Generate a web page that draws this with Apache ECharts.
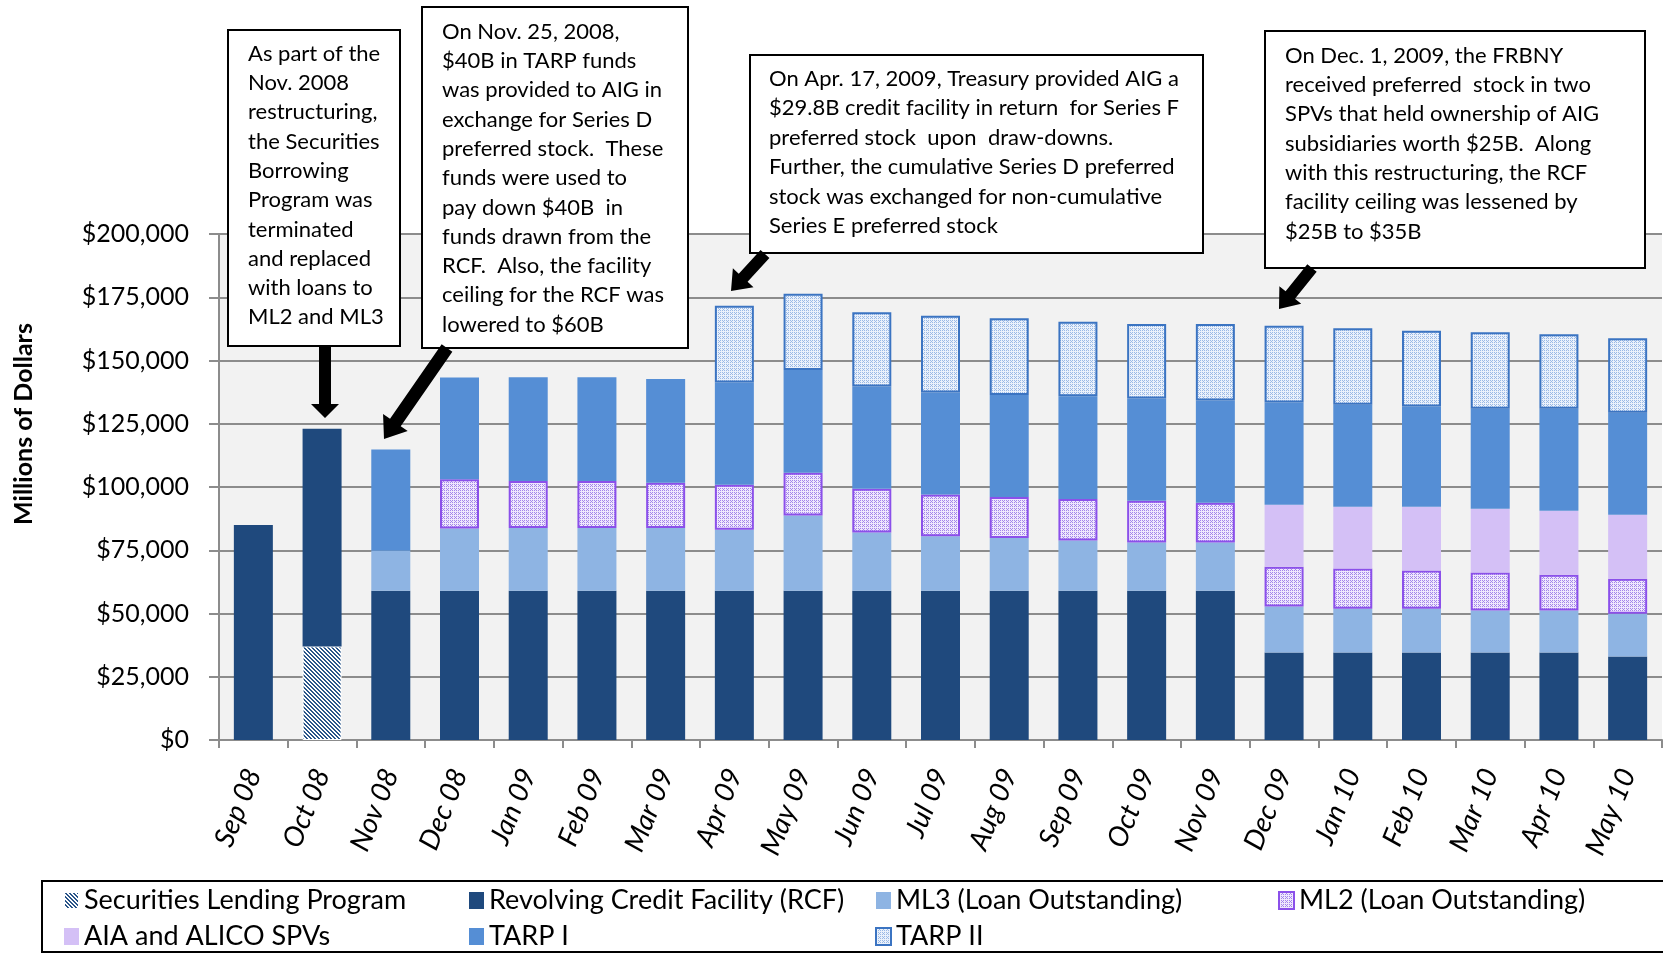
<!DOCTYPE html>
<html>
<head>
<meta charset="utf-8">
<script src="https://cdn.jsdelivr.net/npm/echarts@6/dist/echarts.min.js"></script>
<style>
html,body{margin:0;padding:0;background:#fff;}
#chart{width:1663px;height:955px;}
</style>
</head>
<body>
<div id="chart"></div>
<script>
const categories = ['Sep 08','Oct 08','Nov 08','Dec 08','Jan 09','Feb 09','Mar 09','Apr 09','May 09','Jun 09','Jul 09','Aug 09','Sep 09','Oct 09','Nov 09','Dec 09','Jan 10','Feb 10','Mar 10','Apr 10','May 10'];
const secLending = [null,37000,null,null,null,null,null,null,null,null,null,null,null,null,null,null,null,null,null,null,null];
const rcf  = [85000,86000,59000,59000,59000,59000,59000,59000,59000,59000,59000,59000,59000,59000,59000,34600,34600,34600,34600,34600,33000];
const ml3  = [null,null,15800,24600,24800,24800,24800,24100,29700,23000,21500,20800,19900,19100,19100,18200,17300,17300,16600,16600,16900];
const ml2  = [null,null,null,19500,18600,18600,17900,17800,16900,17300,16500,16200,16400,16500,15700,15700,15900,15100,15000,14100,13800];
const aia  = [null,null,null,null,null,null,null,null,null,null,null,null,null,null,null,24500,24400,25200,25200,25300,25300];
const tarp1 = [null,null,40000,40200,41000,41000,41000,40400,40600,40400,40400,40400,40600,40400,40400,40400,40300,39600,39500,40300,40300];
const tarp2 = [null,null,null,null,null,null,null,30300,30200,29400,30300,30300,29400,29400,30200,30300,30200,30000,30300,29500,29500];
const yTicks = {min:0, max:200000, interval:25000};
const seriesNames = ['Securities Lending Program','Revolving Credit Facility (RCF)','ML3 (Loan Outstanding)','ML2 (Loan Outstanding)','AIA and ALICO SPVs','TARP I','TARP II'];

function pattern(kind, bg, fg){
  const c = document.createElement('canvas');
  c.width = 4; c.height = 4;
  const g = c.getContext('2d');
  g.fillStyle = bg; g.fillRect(0,0,4,4);
  g.fillStyle = fg;
  for (let y=0;y<4;y++) for (let x=0;x<4;x++){
    if (kind==='diag' && (((x - y) % 4 + 4) % 4) < 2) g.fillRect(x,y,1,1);
    if (kind==='dots' && ((x%2===0 && y%2===0) || (x===3 && y===1))) g.fillRect(x,y,1,1);
  }
  return {image:c, repeat:'repeat'};
}

const slFill = pattern('diag','#ffffff','#2a5589');
const ml2Fill = pattern('dots','#efe7fd','#a386ea');
const tarp2Fill = pattern('dots','#eaf1fb','#9ab9e6');

function arrow(x1,y1,x2,y2,sw,hw,hl){
  const dx=x2-x1, dy=y2-y1, L=Math.hypot(dx,dy);
  const ux=dx/L, uy=dy/L, px=-uy, py=ux;
  const bx=x2-ux*hl, by=y2-uy*hl;
  return {type:'polygon', silent:true, z:200, shape:{points:[
    [x1+px*sw/2,y1+py*sw/2],[bx+px*sw/2,by+py*sw/2],[bx+px*hw/2,by+py*hw/2],[x2,y2],
    [bx-px*hw/2,by-py*hw/2],[bx-px*sw/2,by-py*sw/2],[x1-px*sw/2,y1-py*sw/2]]},
    style:{fill:'#000'}};
}
function note(x,y,w,h,tx,ty,lh,text){
  return [
    {type:'rect', z:150, shape:{x:x,y:y,width:w,height:h}, style:{fill:'#fff',stroke:'#000',lineWidth:2}},
    {type:'text', z:151, x:tx, y:ty, style:{text:text, font:'22px Lato', fill:'#000', lineHeight:lh, verticalAlign:'top'}}
  ];
}

const chart = echarts.init(document.getElementById('chart'), null, {renderer:'canvas'});

function bar(name, data, color, extra){
  return {
    name:name, type:'bar', stack:'total', data:data, barWidth:39,
    itemStyle:Object.assign({color:color}, extra||{})
  };
}

const legendBase = {orient:'vertical', icon:'rect', itemWidth:15, itemHeight:17, itemGap:9,
  textStyle:{fontFamily:'Lato', fontSize:27, color:'#000', padding:[0,0,0,0]}, top:887, padding:0};

const option = {
  animation:false,
  backgroundColor:'#fff',
  grid:{left:219, right:1, top:234, bottom:215, show:true, backgroundColor:'#f2f2f2', borderWidth:0},
  legend:[
    Object.assign({}, legendBase, {left:63, data:[seriesNames[0], seriesNames[4]]}),
    Object.assign({}, legendBase, {left:469, data:[seriesNames[1], seriesNames[5]]}),
    Object.assign({}, legendBase, {left:875, data:[seriesNames[2], seriesNames[6]]}),
    Object.assign({}, legendBase, {left:1278, data:[seriesNames[3]]})
  ],
  xAxis:{
    type:'category', data:categories, boundaryGap:true,
    axisLine:{show:true, lineStyle:{color:'#8c8c8c', width:2}},
    axisTick:{show:true, length:8, alignWithLabel:false, lineStyle:{color:'#8c8c8c', width:2}},
    axisLabel:{interval:0, rotate:68, margin:30, fontFamily:'Lato', fontStyle:'italic', fontSize:28, color:'#000'}
  },
  yAxis:{
    type:'value', min:yTicks.min, max:yTicks.max, interval:yTicks.interval,
    axisLine:{show:true, lineStyle:{color:'#8c8c8c', width:2}},
    axisTick:{show:true, length:10, inside:false, lineStyle:{color:'#8c8c8c', width:2}},
    splitLine:{show:true, lineStyle:{color:'#8c8c8c', width:2}},
    axisLabel:{margin:30, fontFamily:'Lato', fontSize:25, color:'#000',
      formatter:function(v){return '$' + v.toLocaleString('en-US');}}
  },
  series:[
    bar(seriesNames[0], secLending, slFill, {borderColor:'#ffffff', borderWidth:1}),
    bar(seriesNames[1], rcf, '#1f497d'),
    bar(seriesNames[2], ml3, '#8eb4e3'),
    bar(seriesNames[3], ml2, ml2Fill, {borderColor:'#8b50ea', borderWidth:2}),
    bar(seriesNames[4], aia, '#d4c0f6'),
    bar(seriesNames[5], tarp1, '#558ed5'),
    bar(seriesNames[6], tarp2, tarp2Fill, {borderColor:'#3b74c2', borderWidth:2})
  ],
  graphic:[].concat(
    [{type:'text', x:24, y:424, rotation:Math.PI/2, style:{text:'Millions of Dollars', font:'bold 25px Lato', fill:'#000', align:'center', verticalAlign:'middle'}}],
    [{type:'rect', z:100, shape:{x:42,y:881,width:1700,height:71}, style:{fill:'none', stroke:'#000', lineWidth:2}}],
    note(228,30,172,316,248,39,29.3,'As part of the\nNov. 2008\nrestructuring,\nthe Securities\nBorrowing\nProgram was\nterminated\nand replaced\nwith loans to\nML2 and ML3'),
    note(422,7,266,341,442,17,29.3,'On Nov. 25, 2008,\n$40B in TARP funds\nwas provided to AIG in\nexchange for Series D\npreferred stock.  These\nfunds were used to\npay down $40B  in\nfunds drawn from the\nRCF.  Also, the facility\nceiling for the RCF was\nlowered to $60B'),
    note(750,55,453,198,769,64,29.5,'On Apr. 17, 2009, Treasury provided AIG a\n$29.8B credit facility in return  for Series F\npreferred stock  upon  draw-downs.\nFurther, the cumulative Series D preferred\nstock was exchanged for non-cumulative\nSeries E preferred stock'),
    note(1265,31,380,237,1285,41,29.3,'On Dec. 1, 2009, the FRBNY\nreceived preferred  stock in two\nSPVs that held ownership of AIG\nsubsidiaries worth $25B.  Along\nwith this restructuring, the RCF\nfacility ceiling was lessened by\n$25B to $35B'),
    [arrow(325,346,325,418,12,28,14),
     arrow(447,348,384,439,13,30,20),
     arrow(765,254,731,291,12,28,18),
     arrow(1312,268,1279,309,12,28,18)]
  )
};
chart.setOption(option);
</script>
</body>
</html>
